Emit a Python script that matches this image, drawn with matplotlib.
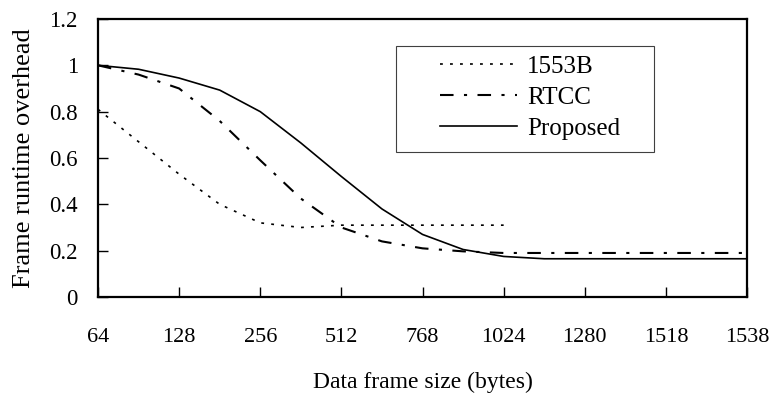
#! /usr/bin/env python3
"""
Frame runtime overhead vs data frame size for 1553B, RTCC and the proposed scheme.
"""

import matplotlib

matplotlib.use("Agg")
import matplotlib.pyplot as plt
from matplotlib.patches import Rectangle

# category labels on the x axis (evenly spaced)
frame_sizes = ["64", "128", "256", "512", "768", "1024", "1280", "1518", "1538"]

# sample positions along the category axis (half steps between labels)
pos_1553b = [0, 0.5, 1, 1.5, 2, 2.5, 3, 3.5, 4, 4.5, 5]
overhead_1553b = [0.81, 0.67, 0.53, 0.40, 0.32, 0.30, 0.31, 0.31, 0.31, 0.31, 0.31]

pos_rtcc = [0, 0.5, 1, 1.5, 2, 2.5, 3, 3.5, 4, 4.5, 5, 5.5, 6, 6.5, 7, 7.5, 8]
overhead_rtcc = [1.0, 0.96, 0.90, 0.76, 0.59, 0.425, 0.30, 0.24, 0.21, 0.197,
                 0.19, 0.19, 0.19, 0.19, 0.19, 0.19, 0.19]

pos_proposed = [0, 0.5, 1, 1.5, 2, 2.5, 3, 3.5, 4, 4.5, 5, 5.5, 6, 6.5, 7, 7.5, 8]
overhead_proposed = [1.0, 0.983, 0.945, 0.893, 0.80, 0.665, 0.52, 0.38, 0.27,
                     0.205, 0.175, 0.165, 0.165, 0.165, 0.165, 0.165, 0.165]

y_ticks = [0, 0.2, 0.4, 0.6, 0.8, 1.0, 1.2]
y_tick_labels = ["0", "0.2", "0.4", "0.6", "0.8", "1", "1.2"]


def main():
    """
    Draw the chart and save out.png
    """
    plt.rcParams["font.family"] = ["Liberation Serif", "DejaVu Serif"]

    fig = plt.figure(figsize=(7.73, 3.98), dpi=100)
    ax = fig.add_axes([0.1268, 0.2538, 0.8396, 0.6985])

    ax.plot(pos_1553b, overhead_1553b, color="black", linewidth=1.2,
            linestyle=(0, (1.7, 4.3)), label="1553B")
    ax.plot(pos_rtcc, overhead_rtcc, color="black", linewidth=1.5,
            linestyle=(0, (6.5, 5, 1.5, 5)), label="RTCC")
    ax.plot(pos_proposed, overhead_proposed, color="black", linewidth=1.2,
            linestyle="-", label="Proposed")

    ax.set_xlim(0, len(frame_sizes) - 1)
    ax.set_ylim(0, 1.2)
    ax.set_xticks(range(len(frame_sizes)))
    ax.set_xticklabels(frame_sizes)
    ax.set_yticks(y_ticks)
    ax.set_yticklabels(y_tick_labels)

    ax.tick_params(axis="x", direction="in", length=7, width=1, pad=22,
                   labelsize=16)
    ax.tick_params(axis="y", direction="in", length=7, width=1, pad=14.5,
                   labelsize=16.5)
    for spine in ax.spines.values():
        spine.set_linewidth(1.6)

    ax.set_xlabel("Data frame size (bytes)", fontsize=17, labelpad=18)
    ax.set_ylabel("Frame runtime overhead", fontsize=19, labelpad=10)

    # legend box drawn separately so the padding matches the original
    ax.add_patch(Rectangle((0.459, 0.522), 0.398, 0.381, transform=ax.transAxes,
                           facecolor="white", edgecolor="#404040",
                           linewidth=0.8, zorder=3))
    leg = ax.legend(loc="upper left", bbox_to_anchor=(0.527, 0.870),
                    fontsize=18, frameon=False, handlelength=3.08,
                    handletextpad=0.4, labelspacing=0.34, borderpad=0,
                    borderaxespad=0)
    leg.set_zorder(4)

    fig.savefig("out.png", dpi=100)


if __name__ == "__main__":
    main()
